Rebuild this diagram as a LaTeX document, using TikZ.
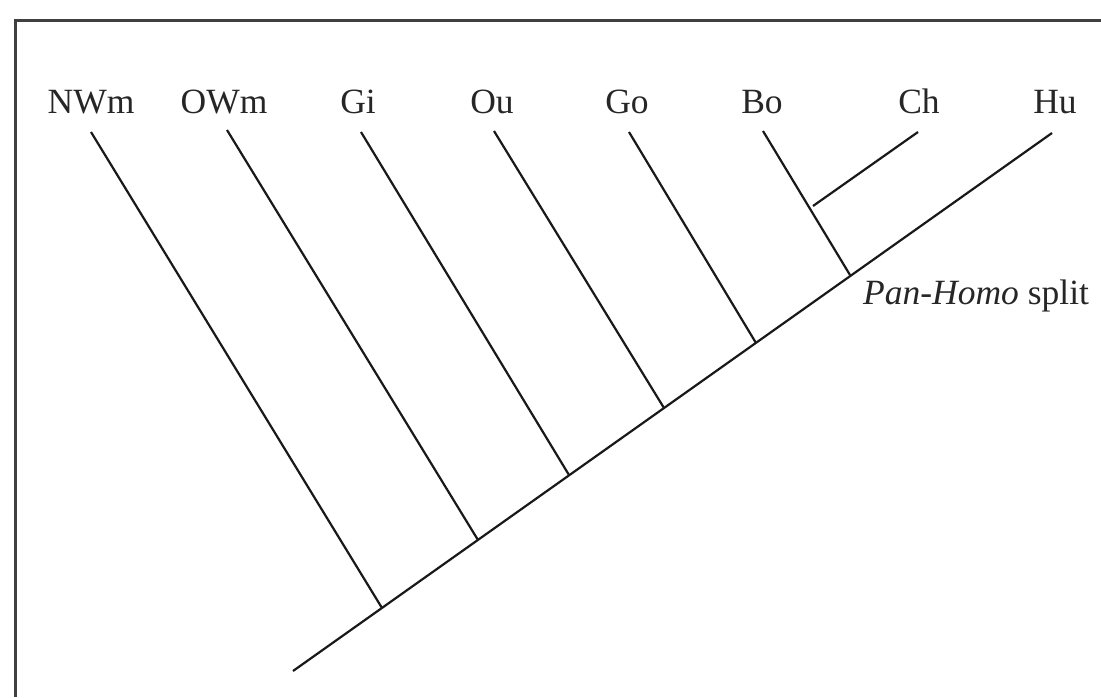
\documentclass[tikz,border=0pt]{standalone}
\usepackage{fontspec}
\setmainfont{Liberation Serif}
\begin{document}
\begin{tikzpicture}[x=1pt,y=-1pt,
  branch/.style={line width=2.2pt,black!90},
  taxon/.style={anchor=base,inner sep=0pt,font=\fontsize{35.5}{40}\selectfont,text=black!85},
  framel/.style={line width=3pt,black!75}]
\useasboundingbox (0,0) rectangle (1101,697);
% frame (partly cropped)
\coordinate (fTL) at (15,20);
\coordinate (fTR) at (1101,20);
\coordinate (fBL) at (15,697);
\draw[framel] (fBL) -- (fTL) -- (fTR);
% labels
\node[taxon] (NWm) at (91,113) {NWm};
\node[taxon] (OWm) at (224,113) {OWm};
\node[taxon] (Gi) at (358,113) {Gi};
\node[taxon] (Ou) at (492,113) {Ou};
\node[taxon] (Go) at (627,113) {Go};
\node[taxon] (Bo) at (762,113) {Bo};
\node[taxon] (Ch) at (919,113) {Ch};
\node[taxon] (Hu) at (1055,113) {Hu};
\node[taxon,anchor=base west] (split) at (863,304) {\textit{Pan-Homo} split};
% tips
\coordinate (tNWm) at (91,132);
\coordinate (tOWm) at (227,130);
\coordinate (tGi) at (361,132);
\coordinate (tOu) at (494,131);
\coordinate (tGo) at (629,132);
\coordinate (tBo) at (763,131);
\coordinate (tCh) at (918,132);
\coordinate (tHu) at (1052,133);
% internal nodes
\coordinate (root) at (293,671);
\coordinate (jNWm) at (382,608);
\coordinate (jOWm) at (478,540);
\coordinate (jGi) at (569,475);
\coordinate (jOu) at (664,408);
\coordinate (jGo) at (756,343);
\coordinate (jBo) at (850,275);
\coordinate (jCh) at (813,206);
% branches
\draw[branch] (root) -- (tHu);
\draw[branch] (tNWm) -- (jNWm);
\draw[branch] (tOWm) -- (jOWm);
\draw[branch] (tGi) -- (jGi);
\draw[branch] (tOu) -- (jOu);
\draw[branch] (tGo) -- (jGo);
\draw[branch] (tBo) -- (jBo);
\draw[branch] (tCh) -- (jCh);
\end{tikzpicture}
\end{document}
